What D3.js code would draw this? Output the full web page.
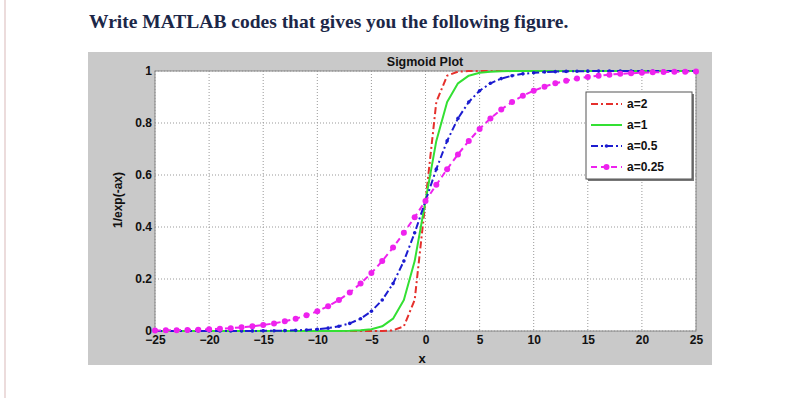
<!DOCTYPE html>
<html>
<head>
<meta charset="utf-8">
<script src="https://cdn.jsdelivr.net/npm/d3@7"></script>
<style>
  body { margin: 0; background: #fff; }
  svg { display: block; }
</style>
</head>
<body>
<svg class="chart"></svg>
<script>
// x samples and the four sigmoid curves
let xs = [-25,-24,-23,-22,-21,-20,-19,-18,-17,-16,-15,-14,-13,-12,-11,-10,-9,-8,-7,-6,-5,-4,-3,-2,-1,
          0,1,2,3,4,5,6,7,8,9,10,11,12,13,14,15,16,17,18,19,20,21,22,23,24,25];

let a2 = [0,0,0,0,0,0,0,0,0,0,0,0,0,0,0,0,0,0,0,0,0,0.0003,0.0025,0.018,0.1192,
          0.5,0.8808,0.982,0.9975,0.9997,1,1,1,1,1,1,1,1,1,1,1,1,1,1,1,1,1,1,1,1,1];

let a1 = [0,0,0,0,0,0,0,0,0,0,0,0,0,0,0,0,0.0001,0.0003,0.0009,0.0025,0.0067,0.018,0.0474,0.1192,0.2689,
          0.5,0.7311,0.8808,0.9526,0.982,0.9933,0.9975,0.9991,0.9997,0.9999,1,1,1,1,1,1,1,1,1,1,1,1,1,1,1,1];

let a05 = [0,0,0,0,0,0,0.0001,0.0001,0.0002,0.0003,0.0006,0.0009,0.0015,0.0025,0.0041,0.0067,0.011,0.018,0.0293,0.0474,0.0759,0.1192,0.1824,0.2689,0.3775,
           0.5,0.6225,0.7311,0.8176,0.8808,0.9241,0.9526,0.9707,0.982,0.989,0.9933,0.9959,0.9975,0.9985,0.9991,0.9994,0.9997,0.9998,0.9999,0.9999,1,1,1,1,1,1];

let a025 = [0.0019,0.0025,0.0032,0.0041,0.0052,0.0067,0.0086,0.011,0.014,0.018,0.023,0.0293,0.0373,0.0474,0.0601,0.0759,0.0953,0.1192,0.148,0.1824,0.2227,0.2689,0.3208,0.3775,0.4378,
            0.5,0.5622,0.6225,0.6792,0.7311,0.7773,0.8176,0.852,0.8808,0.9047,0.9241,0.9399,0.9526,0.9627,0.9707,0.977,0.982,0.986,0.989,0.9914,0.9933,0.9948,0.9959,0.9968,0.9975,0.9981];

let xTicks = [-25,-20,-15,-10,-5,0,5,10,15,20,25];
let yTicks = [0,0.2,0.4,0.6,0.8,1];
let legendLabels = ["a=2","a=1","a=0.5","a=0.25"];

let width  = 795;
let height = 398;
let pLeft = 155, pRight = 696, pTop = 71, pBottom = 331;
let font = "Liberation Sans, Arial, sans-serif";

let svg = d3.select(".chart").attr("width", width).attr("height", height);

svg.append("rect").attr("width", width).attr("height", height).attr("fill", "#fff");
svg.append("line")
  .attr("x1", 5).attr("x2", 5).attr("y1", 0).attr("y2", height)
  .attr("stroke", "#ecdcdc").attr("stroke-width", 2);

svg.append("text")
  .attr("x", 89).attr("y", 28)
  .attr("font-family", "Liberation Serif, serif")
  .attr("font-weight", "bold")
  .attr("font-size", 19.5)
  .attr("fill", "#1c2748")
  .text("Write MATLAB codes that gives you the following figure.");

// figure background
svg.append("rect")
  .attr("x", 88).attr("y", 52).attr("width", 624).attr("height", 313)
  .attr("fill", "#c9c9c9");

let x = d3.scaleLinear().domain([-25, 25]).range([pLeft, pRight]);
let y = d3.scaleLinear().domain([0, 1]).range([pBottom, pTop]);

svg.append("rect")
  .attr("x", pLeft).attr("y", pTop).attr("width", pRight - pLeft).attr("height", pBottom - pTop)
  .attr("fill", "#fff");

// grid
let grid = svg.append("g").attr("stroke", "#999").attr("stroke-dasharray", "1,2").attr("stroke-width", 1);
grid.selectAll(".gx").data(xTicks).join("line")
  .attr("x1", d => x(d)).attr("x2", d => x(d)).attr("y1", pTop).attr("y2", pBottom);
grid.selectAll(".gy").data(yTicks).join("line")
  .attr("x1", pLeft).attr("x2", pRight).attr("y1", d => y(d)).attr("y2", d => y(d));

svg.append("rect")
  .attr("x", pLeft).attr("y", pTop).attr("width", pRight - pLeft).attr("height", pBottom - pTop)
  .attr("fill", "none").attr("stroke", "#888").attr("stroke-width", 1);

// axes
let xAxis = svg.append("g")
  .attr("transform", "translate(0," + pBottom + ")")
  .call(d3.axisBottom(x).tickValues(xTicks).tickSize(0).tickPadding(4));
let yAxis = svg.append("g")
  .attr("transform", "translate(" + pLeft + ",0)")
  .call(d3.axisLeft(y).tickValues(yTicks).tickSize(0).tickPadding(3).tickFormat(d => d === 0 ? "0" : d === 1 ? "1" : d3.format(".1f")(d)));
[xAxis, yAxis].forEach(g => {
  g.select(".domain").remove();
  g.selectAll("text")
    .attr("font-family", font)
    .attr("font-weight", "bold")
    .attr("font-size", 12)
    .attr("fill", "#111");
});

svg.append("text")
  .attr("x", 425).attr("y", 66)
  .attr("text-anchor", "middle")
  .attr("font-family", font)
  .attr("font-weight", "bold").attr("font-size", 12.5).attr("fill", "#111")
  .text("Sigmoid Plot");

svg.append("text")
  .attr("x", 422).attr("y", 363)
  .attr("text-anchor", "middle")
  .attr("font-family", font)
  .attr("font-weight", "bold").attr("font-size", 13).attr("fill", "#111")
  .text("x");

svg.append("text")
  .attr("transform", "translate(122,200) rotate(-90)")
  .attr("text-anchor", "middle")
  .attr("font-family", font)
  .attr("font-weight", "bold").attr("font-size", 12).attr("fill", "#111")
  .text("1/exp(-ax)");

let series = [
  { name: legendLabels[0], values: a2,   color: "#e5302c", dash: "7,3,2,3", marker: 0 },
  { name: legendLabels[1], values: a1,   color: "#33e033", dash: null,      marker: 0 },
  { name: legendLabels[2], values: a05,  color: "#1c1cd0", dash: "7,3,2,3", marker: 1.8 },
  { name: legendLabels[3], values: a025, color: "#ee22ee", dash: "6,4",     marker: 3 }
];

let line = d3.line()
  .x(function(d, i) { return x(xs[i]); })
  .y(function(d) { return y(d); });

let plot = svg.append("g");
series.forEach(s => {
  plot.append("path")
    .attr("fill", "none")
    .attr("stroke", s.color)
    .attr("stroke-width", 2)
    .attr("stroke-linejoin", "round")
    .attr("stroke-dasharray", s.dash)
    .attr("d", line(s.values));
  if (s.marker) {
    plot.selectAll(null).data(s.values).join("circle")
      .attr("cx", (d, i) => x(xs[i]))
      .attr("cy", d => y(d))
      .attr("r", s.marker)
      .attr("fill", s.color);
  }
});

// legend
let lg = svg.append("g");
lg.append("rect").attr("x", 588).attr("y", 94).attr("width", 106).attr("height", 87).attr("fill", "#777");
lg.append("rect").attr("x", 586).attr("y", 92).attr("width", 106).attr("height", 87)
  .attr("fill", "#fff").attr("stroke", "#555").attr("stroke-width", 1);
series.forEach((s, i) => {
  let yy = 104 + i * 21;
  lg.append("line")
    .attr("x1", 591).attr("x2", 622).attr("y1", yy).attr("y2", yy)
    .attr("stroke", s.color).attr("stroke-width", 2)
    .attr("stroke-dasharray", s.dash);
  if (s.marker) {
    lg.append("circle").attr("cx", 606.5).attr("cy", yy).attr("r", s.marker).attr("fill", s.color);
  }
  lg.append("text")
    .attr("x", 627).attr("y", yy + 4)
    .attr("font-family", font)
    .attr("font-weight", "bold").attr("font-size", 12).attr("fill", "#111")
    .text(s.name);
});
</script>
</body>
</html>
